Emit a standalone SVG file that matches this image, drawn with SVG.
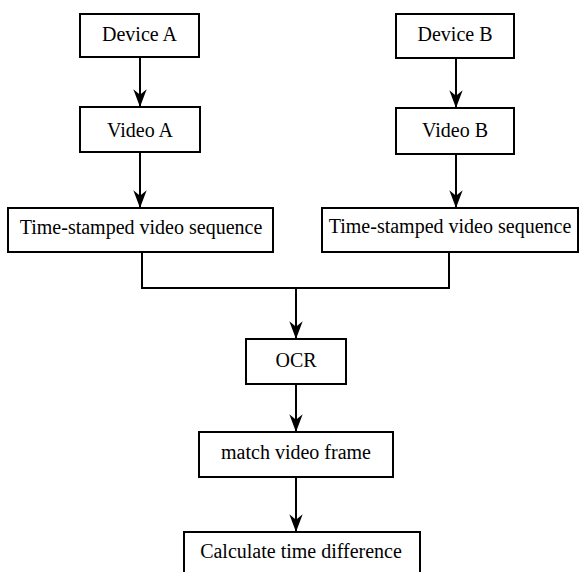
<svg xmlns="http://www.w3.org/2000/svg" width="583" height="572" viewBox="0 0 583 572">
<style>
.box{fill:#fff;stroke:#000;stroke-width:2}
.lbl{font-family:'Liberation Serif','Times New Roman',Times,'Noto Serif','Noto Serif CJK SC',FreeSerif,'Nimbus Roman',Tinos,serif;font-size:20px;fill:#000;text-anchor:middle}
.ln{fill:none;stroke:#000;stroke-width:2}
</style>
<defs>
<marker id="ah" markerUnits="userSpaceOnUse" markerWidth="20" markerHeight="16" viewBox="-17 -7 18 14" refX="0" refY="0" orient="auto">
<path d="M0,0 L-16,-6 L-11,0 L-16,6 Z" fill="#000"/>
</marker>
</defs>
<rect width="583" height="572" fill="#fff"/>
<g id="connectors">
<line class="ln" x1="140" y1="57" x2="140" y2="107" marker-end="url(#ah)"/>
<line class="ln" x1="140" y1="152" x2="140" y2="208" marker-end="url(#ah)"/>
<line class="ln" x1="456" y1="58" x2="456" y2="108" marker-end="url(#ah)"/>
<line class="ln" x1="456" y1="154" x2="456" y2="208" marker-end="url(#ah)"/>
<polyline class="ln" points="142,252 142,288 449,288 449,252"/>
<line class="ln" x1="296" y1="288" x2="296" y2="339" marker-end="url(#ah)"/>
<line class="ln" x1="296" y1="384" x2="296" y2="432" marker-end="url(#ah)"/>
<line class="ln" x1="296" y1="477" x2="296" y2="532" marker-end="url(#ah)"/>
</g>
<g id="deviceA"><rect class="box" x="80" y="14" width="119" height="43"/><text class="lbl" x="139.5" y="41">Device A</text></g>
<g id="videoA"><rect class="box" x="80" y="107" width="120" height="45"/><text class="lbl" x="140" y="137">Video A</text></g>
<g id="tsA"><rect class="box" x="8" y="208" width="265" height="44"/><text class="lbl" x="141" y="234">Time-stamped video sequence</text></g>
<g id="deviceB"><rect class="box" x="396" y="14" width="118" height="44"/><text class="lbl" x="455" y="41">Device B</text></g>
<g id="videoB"><rect class="box" x="396" y="108" width="118" height="46"/><text class="lbl" x="455" y="137">Video B</text></g>
<g id="tsB"><rect class="box" x="322" y="208" width="256" height="44"/><text class="lbl" x="450" y="233">Time-stamped video sequence</text></g>
<g id="ocr"><rect class="box" x="246" y="339" width="100" height="45"/><text class="lbl" x="296" y="367">OCR</text></g>
<g id="match"><rect class="box" x="199" y="432" width="194" height="45"/><text class="lbl" x="296" y="459">match video frame</text></g>
<g id="calc"><rect class="box" x="184" y="532" width="236" height="50"/><text class="lbl" x="301" y="558">Calculate time difference</text></g>
</svg>
